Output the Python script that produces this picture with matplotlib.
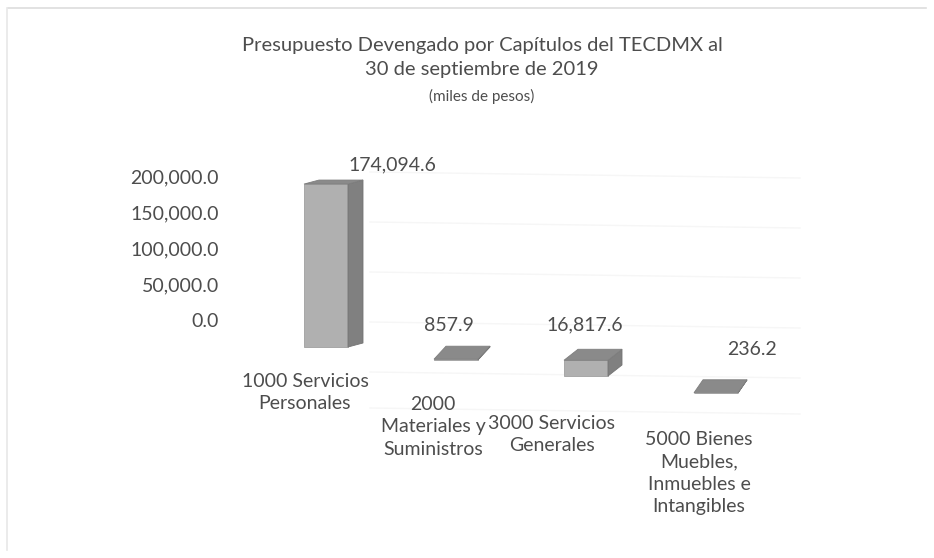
import numpy as np
import matplotlib.pyplot as plt
from matplotlib.patches import Polygon

# ======================================
# Data
# ======================================

categories = [
    "1000 Servicios\nPersonales",
    "2000\nMateriales y\nSuministros",
    "3000 Servicios\nGenerales",
    "5000 Bienes\nMuebles,\nInmuebles e\nIntangibles",
]

values = [174094.6, 857.9, 16817.6, 236.2]

value_labels = ["174,094.6", "857.9", "16,817.6", "236.2"]

yticks = [0, 50000, 100000, 150000, 200000]

title_lines = [
    "Presupuesto Devengado por Capítulos del TECDMX al",
    "30 de septiembre de 2019",
]
subtitle = "(miles de pesos)"

# ======================================
# Layout (pixels, figure is 934 x 558)
# ======================================

W, H = 934, 558
FONT = "Lato"
TEXT = "#4d4d4d"

ax_l, ax_r, ax_t, ax_b = 230, 900, 112, 458
zero_px, top_px = 320, 176          # tick 0 and tick 200,000
px_per_unit_y = (zero_px - top_px) / 200000.0
x0_px, step_px = 326, 130           # first bar centre and spacing

# perspective: bars further right sit lower, top faces show more
base_px = [347, 360, 376, 393]
depth_px = [(15, 4), (12, 13), (14, 11), (9, 13)]
persp = 1.3
bar_w_px = 44

label_off = [(66, 19), (-7, 34), (-1, 35), (36, 43)]
cat_pos = [(305, 373), (433, 396), (552, 415), (699, 431)]

fig = plt.figure(figsize=(W / 100, H / 100), dpi=100)
fig.patch.set_facecolor("white")

ax = fig.add_axes([
    ax_l / W,
    1 - ax_b / H,
    (ax_r - ax_l) / W,
    (ax_b - ax_t) / H
])

ymin = (zero_px - ax_b) / px_per_unit_y
ymax = (zero_px - ax_t) / px_per_unit_y
ax.set_ylim(ymin, ymax)
ax.set_xlim((ax_l - x0_px) / step_px, (ax_r - x0_px) / step_px)

for s in ax.spines.values():
    s.set_visible(False)
ax.set_xticks([])
ax.set_yticks(yticks)
ax.set_yticklabels([f"{v:,.1f}" for v in yticks],
                   fontsize=14, color=TEXT, family=FONT)
ax.tick_params(axis="y", length=0, pad=8)

# ======================================
# Faint back-wall gridlines
# ======================================

wall_zero_px = 372
wall_scale = 1.0 / 1000.0           # px per unit on the back wall
gx = np.array([(370 - x0_px) / step_px, (800 - x0_px) / step_px])
for v in yticks + [-36000]:
    y_left = (zero_px - (wall_zero_px - v * wall_scale)) / px_per_unit_y
    y_right = y_left - 6 / px_per_unit_y
    ax.plot(gx, [y_left, y_right], color="#f6f6f6", lw=1.0, zorder=0)

# ======================================
# Pseudo-3D bars
# ======================================

x = np.arange(len(values))
bottoms = np.array([(zero_px - b) / px_per_unit_y for b in base_px])
heights = np.array(values) * persp
bw = bar_w_px / step_px

ax.bar(x, heights, bottom=bottoms, width=bw,
       color="#b0b0b0", edgecolor="#a0a0a0", lw=0.6, zorder=3)

for i in range(len(values)):
    ddx = depth_px[i][0] / step_px
    ddy = depth_px[i][1] / px_per_unit_y
    xl = x[i] - bw / 2
    xr = x[i] + bw / 2
    yb = bottoms[i]
    yt = bottoms[i] + heights[i]

    side = Polygon([(xr, yb), (xr + ddx, yb + ddy),
                    (xr + ddx, yt + ddy), (xr, yt)],
                   closed=True, facecolor="#808080",
                   edgecolor="#747474", lw=0.6, zorder=3)
    top = Polygon([(xl, yt), (xr, yt), (xr + ddx, yt + ddy),
                   (xl + ddx, yt + ddy)],
                  closed=True, facecolor="#8a8a8a",
                  edgecolor="#7e7e7e", lw=0.6, zorder=4)
    ax.add_patch(side)
    ax.add_patch(top)

    ax.annotate(value_labels[i], (x[i], yt),
                xytext=label_off[i], textcoords="offset pixels",
                ha="center", va="center", fontsize=14,
                color=TEXT, family=FONT)

# ======================================
# Category labels
# ======================================

for (px, py), lab in zip(cat_pos, categories):
    fig.text(px / W, 1 - py / H, lab, ha="center", va="top",
             fontsize=14, color=TEXT, family=FONT, linespacing=1.38)

# ======================================
# Title
# ======================================

fig.text(482 / W, 1 - 45 / H, title_lines[0], ha="center", va="center",
         fontsize=14.5, color=TEXT, family=FONT)
fig.text(482 / W, 1 - 70 / H, title_lines[1], ha="center", va="center",
         fontsize=14.5, color=TEXT, family=FONT)
fig.text(482 / W, 1 - 96 / H, subtitle, ha="center", va="center",
         fontsize=11, color=TEXT, family=FONT)

# scan frame remnants
fig.add_artist(plt.Line2D([8 / W, 926 / W], [1 - 8 / H, 1 - 8 / H],
                          color="#dddddd", lw=1.2))
fig.add_artist(plt.Line2D([7 / W, 7 / W], [1 - 8 / H, 1 - 550 / H],
                          color="#e8e8e8", lw=1.2))

fig.savefig("out.png", dpi=100, facecolor="white")
